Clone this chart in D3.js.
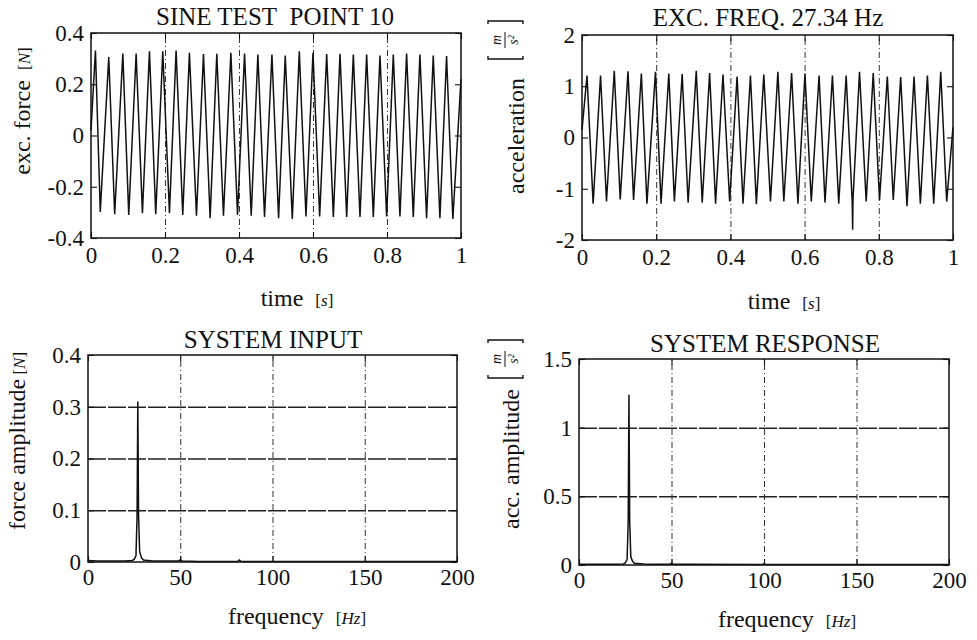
<html>
<script src="https://d3js.org/d3.v7.min.js"></script>
<style>
body { margin: 0; background: #fff; }
text { font-family: "Liberation Serif", "DejaVu Serif", serif; fill: #111; }
.tick text { font-size: 23px; }
.tick line { stroke: #111; stroke-width: 1.1; }
.domain { display: none; }
.grid .tick line { stroke: #333; stroke-width: 1; stroke-dasharray: 6,3,1,3; }
.hgrid .tick line { stroke: #222; stroke-width: 1.5; stroke-dasharray: 18,2; }
.frame { fill: none; stroke: #111; stroke-width: 1.5; }
.curve { fill: none; stroke: #111; stroke-width: 1.5; stroke-linejoin: miter; }
</style>
<body>
<svg width="977" height="640"></svg>
<script>
// excitation force (peaks / troughs)
const forceT = [0, 0.012, 0.025, 0.048, 0.064, 0.086, 0.102, 0.122, 0.139, 0.158, 0.175, 0.194, 0.212, 0.230, 0.248, 0.266, 0.285, 0.304, 0.322, 0.340, 0.358, 0.378, 0.396, 0.415, 0.433, 0.451, 0.469, 0.489, 0.507, 0.525, 0.544, 0.563, 0.581, 0.600, 0.618, 0.637, 0.655, 0.673, 0.691, 0.709, 0.727, 0.745, 0.763, 0.781, 0.799, 0.817, 0.835, 0.853, 0.871, 0.889, 0.907, 0.925, 0.943, 0.961, 0.978, 1.0];
const forceV = [0.02, 0.332, -0.298, 0.306, -0.307, 0.32, -0.31, 0.32, -0.303, 0.329, -0.307, 0.329, -0.303, 0.332, -0.31, 0.323, -0.313, 0.318, -0.323, 0.319, -0.313, 0.323, -0.31, 0.32, -0.313, 0.316, -0.318, 0.316, -0.323, 0.312, -0.326, 0.329, -0.316, 0.323, -0.316, 0.318, -0.318, 0.319, -0.318, 0.316, -0.318, 0.316, -0.318, 0.312, -0.316, 0.316, -0.316, 0.32, -0.318, 0.316, -0.323, 0.312, -0.323, 0.31, -0.326, 0.22];

// acceleration response
const accT = [0, 0.0135, 0.030, 0.050, 0.066, 0.087, 0.103, 0.124, 0.139, 0.160, 0.175, 0.198, 0.213, 0.234, 0.249, 0.270, 0.286, 0.308, 0.324, 0.344, 0.360, 0.380, 0.398, 0.418, 0.434, 0.454, 0.470, 0.490, 0.508, 0.528, 0.544, 0.565, 0.582, 0.601, 0.618, 0.639, 0.655, 0.675, 0.692, 0.712, 0.7284, 0.7295, 0.7305, 0.748, 0.766, 0.785, 0.802, 0.823, 0.839, 0.859, 0.876, 0.895, 0.912, 0.931, 0.948, 0.967, 0.983, 1.0];
const accV = [0.15, 1.21, -1.29, 1.21, -1.25, 1.30, -1.21, 1.29, -1.22, 1.25, -1.29, 1.28, -1.29, 1.25, -1.25, 1.24, -1.27, 1.30, -1.27, 1.26, -1.29, 1.23, -1.25, 1.19, -1.29, 1.21, -1.30, 1.23, -1.25, 1.28, -1.25, 1.26, -1.29, 1.25, -1.25, 1.21, -1.27, 1.21, -1.29, 1.21, -1.27, -1.80, -1.2, 1.28, -1.25, 1.26, -1.22, 1.19, -1.22, 1.18, -1.34, 1.19, -1.29, 1.21, -1.29, 1.28, -1.25, 0.2];

// amplitude spectra
const freqIn = [0, 5, 10, 15, 20, 24, 25, 26, 26.6, 27, 27.4, 28, 29, 30, 35, 40, 49, 50, 51, 60, 70, 81, 82, 83, 90, 100, 150, 200];
const ampIn = [0.003, 0.002, 0.002, 0.002, 0.002, 0.003, 0.005, 0.012, 0.09, 0.31, 0.09, 0.02, 0.008, 0.004, 0.002, 0.002, 0.002, 0.004, 0.002, 0.001, 0.001, 0.001, 0.004, 0.001, 0.001, 0.001, 0.001, 0.001];
const freqResp = [0, 10, 20, 24, 25, 26, 26.6, 27, 27.4, 28, 29, 30, 35, 40, 49, 50, 51, 60, 99, 100, 101, 150, 200];
const ampResp = [0.006, 0.005, 0.006, 0.008, 0.015, 0.04, 0.32, 1.24, 0.32, 0.06, 0.025, 0.012, 0.007, 0.006, 0.006, 0.012, 0.006, 0.005, 0.004, 0.008, 0.004, 0.003, 0.003];

const timeTicks = [0, 0.2, 0.4, 0.6, 0.8, 1];
const freqTicks = [0, 50, 100, 150, 200];
const forceTicks = [-0.4, -0.2, 0, 0.2, 0.4];
const accTicks = [-2, -1, 0, 1, 2];
const ampInTicks = [0, 0.1, 0.2, 0.3, 0.4];
const ampRespTicks = [0, 0.5, 1, 1.5];

const svg = d3.select("svg");
const fmt = d => String(d);

function panel(p) {
    const w = p.x1 - p.x0, h = p.y1 - p.y0;
    const x = d3.scaleLinear().domain(p.xd).range([0, w]);
    const y = d3.scaleLinear().domain(p.yd).range([h, 0]);
    const g = svg.append("g").attr("transform", `translate(${p.x0},${p.y0})`);

    // grid
    g.append("g").attr("class", "grid").attr("transform", `translate(0,${h})`)
        .call(d3.axisBottom(x).tickValues(p.xt.slice(1, -1)).tickSize(-h).tickFormat(""));
    if (p.hgrid) {
        g.append("g").attr("class", "hgrid")
            .call(d3.axisLeft(y).tickValues(p.yt.slice(1, -1)).tickSize(-w).tickFormat(""));
    }

    // data
    g.append("path").attr("class", "curve")
        .attr("d", d3.line().x(d => x(d[0])).y(d => y(d[1]))(d3.zip(p.xs, p.ys)));

    // inward ticks on all sides, labels left / bottom
    g.append("g").attr("transform", `translate(0,${h})`)
        .call(d3.axisBottom(x).tickValues(p.xt).tickSizeInner(-6).tickSizeOuter(0).tickPadding(p.xpad).tickFormat(fmt));
    g.append("g")
        .call(d3.axisLeft(y).tickValues(p.yt).tickSizeInner(-6).tickSizeOuter(0).tickPadding(7).tickFormat(fmt));
    g.append("g")
        .call(d3.axisTop(x).tickValues(p.xt).tickSizeInner(-6).tickSizeOuter(0).tickFormat(""));
    g.append("g").attr("transform", `translate(${w},0)`)
        .call(d3.axisRight(y).tickValues(p.yt).tickSizeInner(-6).tickSizeOuter(0).tickFormat(""));
    g.selectAll(".tick text").attr("fill", "#111");

    g.append("rect").attr("class", "frame").attr("width", w).attr("height", h);

    svg.append("text").attr("x", p.tx).attr("y", p.ty).attr("text-anchor", "middle")
        .style("font-size", "25px").text(p.title);

    const xl = svg.append("text").attr("x", p.xlx).attr("y", p.xly).attr("text-anchor", "middle")
        .style("font-size", "24px");
    xl.append("tspan").text(p.xlabel + "\u00a0\u00a0");
    xl.append("tspan").style("font-size", "17px").text("[");
    xl.append("tspan").style("font-size", "17px").style("font-style", "italic").text(p.xunit);
    xl.append("tspan").style("font-size", "17px").text("]");

    const yl = svg.append("text").attr("text-anchor", "middle").style("font-size", "24px")
        .attr("transform", `translate(${p.ylx},${p.yly}) rotate(-90)`);
    yl.append("tspan").text(p.ylabel);
    if (p.yunit) {
        yl.append("tspan").style("font-size", "17px").text("\u00a0[");
        yl.append("tspan").style("font-size", "17px").style("font-style", "italic").text(p.yunit);
        yl.append("tspan").style("font-size", "17px").text("]");
    }
    if (p.frac) {
        const f = svg.append("g").attr("transform", `translate(${p.frac[0]},${p.frac[1]}) rotate(-90)`);
        f.append("text").attr("x", 0).attr("y", -4).attr("text-anchor", "middle")
            .style("font-size", "14px").style("font-style", "italic").text("m");
        f.append("line").attr("x1", -8).attr("x2", 8).attr("y1", 0).attr("y2", 0).attr("stroke", "#111");
        f.append("text").attr("x", 0).attr("y", 13).attr("text-anchor", "middle")
            .style("font-size", "14px").style("font-style", "italic").text("s\u00b2");
        f.append("path").attr("fill", "none").attr("stroke", "#111").attr("stroke-width", 1.4)
            .attr("d", "M-16,-17 L-19,-17 L-19,18 L-16,18 M16,-17 L19,-17 L19,18 L16,18");
    }
}

panel({x0: 91, x1: 461, y0: 33, y1: 238, xd: [0, 1], yd: [-0.4, 0.4], xt: timeTicks, yt: forceTicks, xpad: 9,
    xs: forceT, ys: forceV, title: "SINE TEST\u00a0\u00a0POINT 10", tx: 275, ty: 25,
    xlabel: "time", xunit: "s", xlx: 297, xly: 306, ylabel: "exc. force\u00a0", yunit: "N", ylx: 30, yly: 111});
panel({x0: 582, x1: 953, y0: 35, y1: 240, xd: [0, 1], yd: [-2, 2], xt: timeTicks, yt: accTicks, xpad: 9,
    xs: accT, ys: accV, title: "EXC. FREQ. 27.34 Hz", tx: 768, ty: 26,
    xlabel: "time", xunit: "s", xlx: 784, xly: 309, ylabel: "acceleration", ylx: 524, yly: 136, frac: [505, 40]});
panel({x0: 88, x1: 457, y0: 355, y1: 562, xd: [0, 200], yd: [0, 0.4], xt: freqTicks, yt: ampInTicks, hgrid: true, xpad: 7,
    xs: freqIn, ys: ampIn, title: "SYSTEM INPUT", tx: 273, ty: 348,
    xlabel: "frequency", xunit: "Hz", xlx: 297, xly: 624, ylabel: "force amplitude", yunit: "N", ylx: 25, yly: 441});
panel({x0: 579, x1: 949, y0: 359, y1: 565, xd: [0, 200], yd: [0, 1.5], xt: freqTicks, yt: ampRespTicks, hgrid: true, xpad: 7,
    xs: freqResp, ys: ampResp, title: "SYSTEM RESPONSE", tx: 765, ty: 352,
    xlabel: "frequency", xunit: "Hz", xlx: 787, xly: 627, ylabel: "acc. amplitude", ylx: 519, yly: 459, frac: [505, 359]});
</script>
</body>
</html>
